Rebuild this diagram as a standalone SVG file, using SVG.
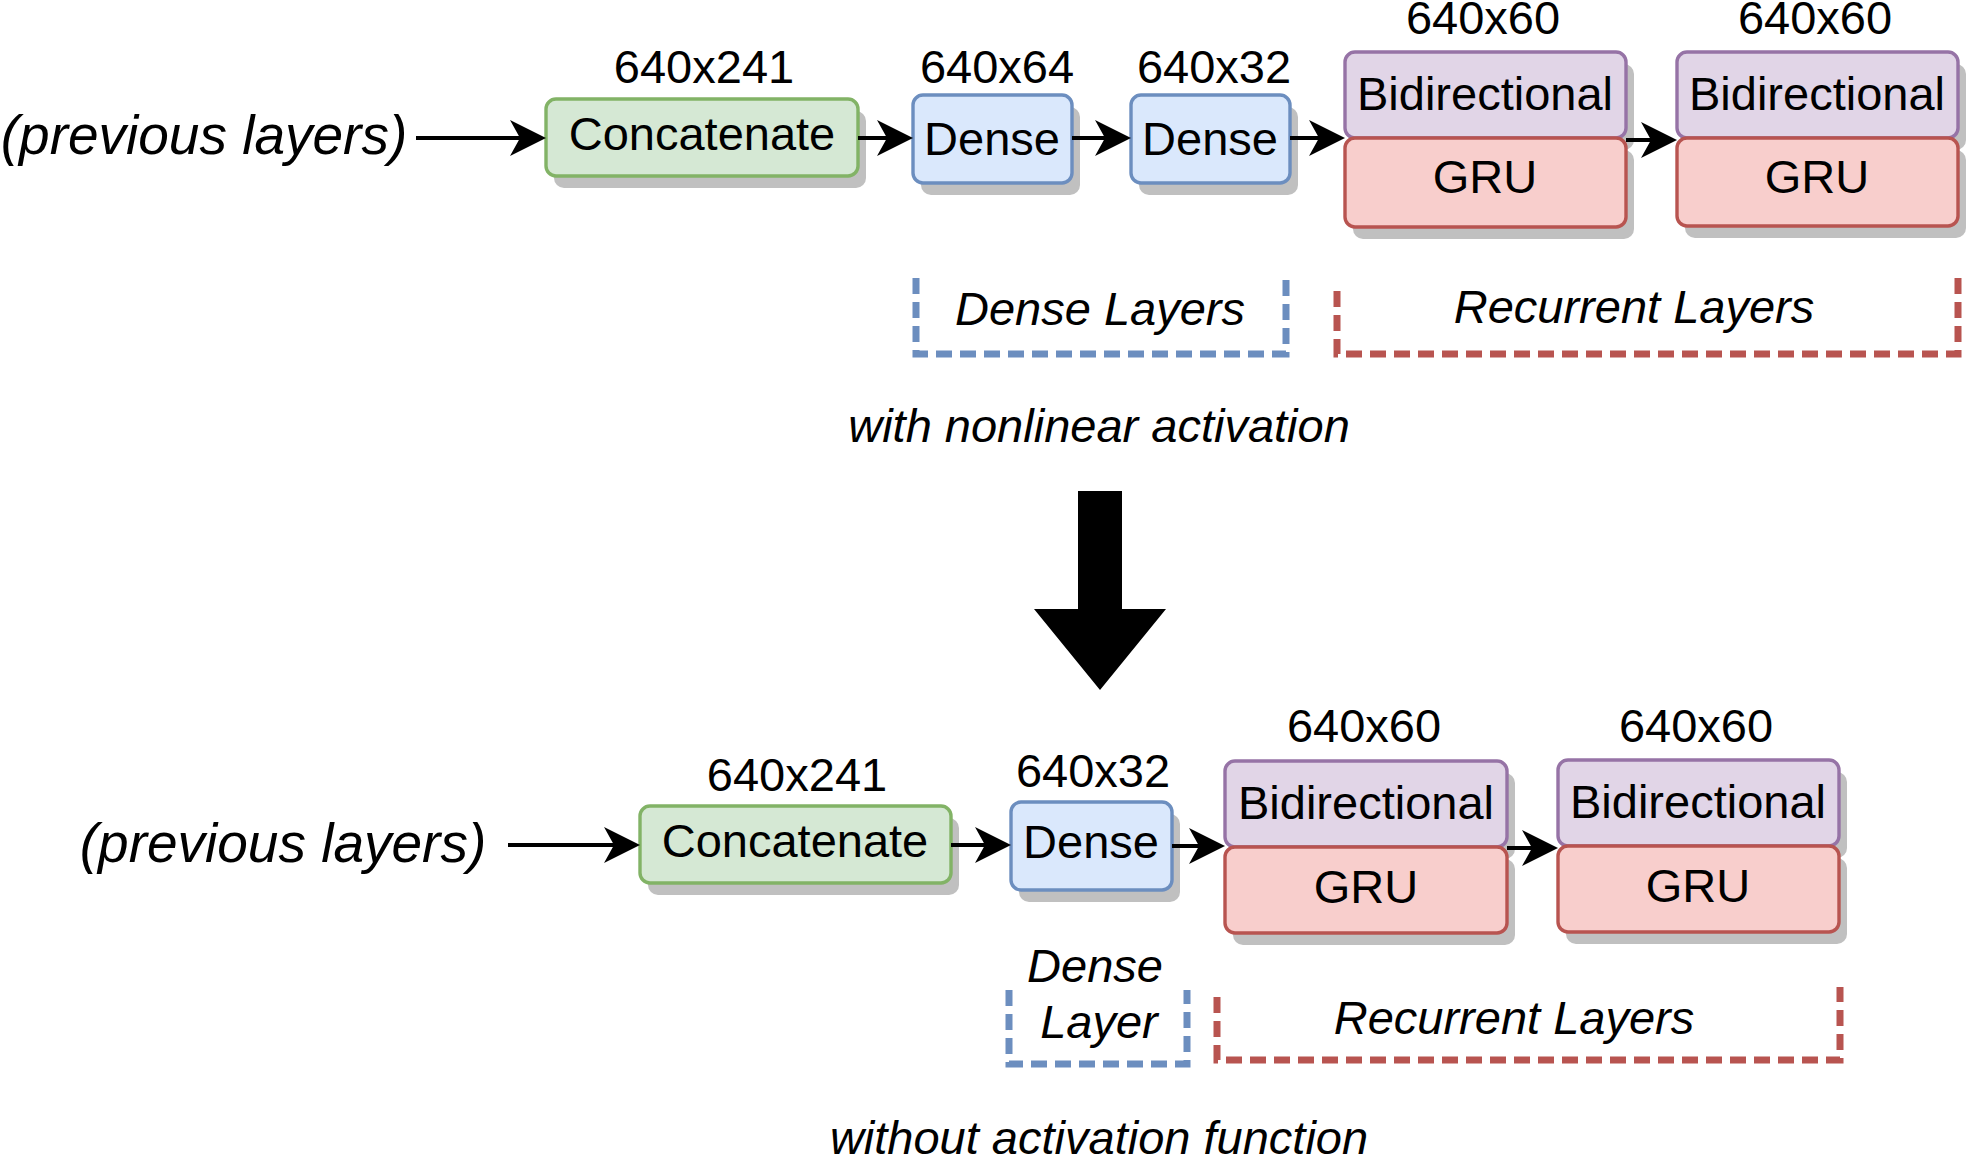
<svg xmlns="http://www.w3.org/2000/svg" width="1969" height="1156" viewBox="0 0 1969 1156">
<style>
text{font-family:"Liberation Sans",Arial,Helvetica,sans-serif;font-size:47px;fill:#000;text-anchor:middle}
.it{font-style:italic}
.big{font-size:55px}
.shadow{fill:#c0c0c0;stroke:none}
.green{fill:#d5e8d4;stroke:#82b366;stroke-width:3.4}
.blue{fill:#dae8fc;stroke:#6c8ebf;stroke-width:3.4}
.purple{fill:#e1d5e7;stroke:#9673a6;stroke-width:3.4}
.red{fill:#f8cecc;stroke:#b85450;stroke-width:3.4}
.conn{stroke:#000;stroke-width:4;fill:none;marker-end:url(#arr)}
.dblue{fill:none;stroke:#6c8ebf;stroke-width:7;stroke-dasharray:16 8}
.dred{fill:none;stroke:#b85450;stroke-width:7;stroke-dasharray:16 8}
</style>
<defs>
<marker id="arr" markerUnits="userSpaceOnUse" viewBox="0 0 36 36" refX="10" refY="18" markerWidth="36" markerHeight="36" orient="auto">
<path d="M0,0 L36,18 L0,36 L10,18 Z" fill="#000"/>
</marker>
</defs>
<rect width="1969" height="1156" fill="#fff"/>

<!-- Top row -->
<g id="top-prev"><text class="it big" x="204" y="154">(previous layers)</text></g>
<g id="top-concat">
<rect class="shadow" x="554" y="111" width="312" height="77" rx="10"/>
<rect class="green" x="546" y="99" width="312" height="77" rx="10"/>
<text x="702" y="150">Concatenate</text>
<text x="704" y="83">640x241</text>
</g>
<g id="top-dense1">
<rect class="shadow" x="921" y="107" width="159" height="88" rx="10"/>
<rect class="blue" x="913" y="95" width="159" height="88" rx="10"/>
<text x="992" y="155">Dense</text>
<text x="997" y="83">640x64</text>
</g>
<g id="top-dense2">
<rect class="shadow" x="1139" y="107" width="159" height="88" rx="10"/>
<rect class="blue" x="1131" y="95" width="159" height="88" rx="10"/>
<text x="1210" y="155">Dense</text>
<text x="1214" y="83">640x32</text>
</g>
<g id="top-rnn1">
<rect class="shadow" x="1353" y="64" width="281" height="86" rx="10"/>
<rect class="purple" x="1345" y="52" width="281" height="86" rx="10"/>
<rect class="shadow" x="1353" y="150" width="281" height="89" rx="10"/>
<rect class="red" x="1345" y="138" width="281" height="89" rx="10"/>
<text x="1485" y="110">Bidirectional</text>
<text x="1485" y="193">GRU</text>
<text x="1483" y="34">640x60</text>
</g>
<g id="top-rnn2">
<rect class="shadow" x="1685" y="64" width="281" height="86" rx="10"/>
<rect class="purple" x="1677" y="52" width="281" height="86" rx="10"/>
<rect class="shadow" x="1685" y="150" width="281" height="88" rx="10"/>
<rect class="red" x="1677" y="138" width="281" height="88" rx="10"/>
<text x="1817" y="110">Bidirectional</text>
<text x="1817" y="193">GRU</text>
<text x="1815" y="34">640x60</text>
</g>
<g id="top-dense-bracket">
<path class="dblue" d="M916,278 V354 H1286 V278"/>
<text class="it" x="1100" y="325">Dense Layers</text>
</g>
<g id="top-rec-bracket">
<path class="dred" d="M1337,291 V354 H1958 V278"/>
<text class="it" x="1634" y="323">Recurrent Layers</text>
</g>
<g id="top-caption"><text class="it" x="1099" y="442">with nonlinear activation</text></g>

<!-- Big arrow -->
<g id="big-arrow">
<path d="M1078,491 H1122 V609 H1166 L1100,690 L1034,609 H1078 Z" fill="#000"/>
</g>

<!-- Bottom row -->
<g id="bot-prev"><text class="it big" x="283" y="862">(previous layers)</text></g>
<g id="bot-concat">
<rect class="shadow" x="648" y="818" width="311" height="77" rx="10"/>
<rect class="green" x="640" y="806" width="311" height="77" rx="10"/>
<text x="795" y="857">Concatenate</text>
<text x="797" y="791">640x241</text>
</g>
<g id="bot-dense">
<rect class="shadow" x="1019" y="814" width="161" height="88" rx="10"/>
<rect class="blue" x="1011" y="802" width="161" height="88" rx="10"/>
<text x="1091" y="858">Dense</text>
<text x="1093" y="787">640x32</text>
</g>
<g id="bot-rnn1">
<rect class="shadow" x="1233" y="773" width="282" height="86" rx="10"/>
<rect class="purple" x="1225" y="761" width="282" height="86" rx="10"/>
<rect class="shadow" x="1233" y="859" width="282" height="86" rx="10"/>
<rect class="red" x="1225" y="847" width="282" height="86" rx="10"/>
<text x="1366" y="819">Bidirectional</text>
<text x="1366" y="903">GRU</text>
<text x="1364" y="742">640x60</text>
</g>
<g id="bot-rnn2">
<rect class="shadow" x="1566" y="772" width="281" height="86" rx="10"/>
<rect class="purple" x="1558" y="760" width="281" height="86" rx="10"/>
<rect class="shadow" x="1566" y="858" width="281" height="86" rx="10"/>
<rect class="red" x="1558" y="846" width="281" height="86" rx="10"/>
<text x="1698" y="818">Bidirectional</text>
<text x="1698" y="902">GRU</text>
<text x="1696" y="742">640x60</text>
</g>
<g id="bot-dense-bracket">
<path class="dblue" d="M1009,990 V1064 H1187 V990"/>
<text class="it" x="1095" y="982">Dense</text>
<text class="it" x="1099" y="1038">Layer</text>
</g>
<g id="bot-rec-bracket">
<path class="dred" d="M1217,997 V1060 H1840 V987"/>
<text class="it" x="1514" y="1034">Recurrent Layers</text>
</g>
<g id="bot-caption"><text class="it" x="1099" y="1154">without activation function</text></g>

<!-- Connectors -->
<g id="connectors">
<line class="conn" x1="416" y1="138" x2="520" y2="138"/>
<line class="conn" x1="858" y1="138" x2="887" y2="138"/>
<line class="conn" x1="1072" y1="138" x2="1105" y2="138"/>
<line class="conn" x1="1290" y1="138" x2="1319" y2="138"/>
<line class="conn" x1="1626" y1="140" x2="1651" y2="140"/>
<line class="conn" x1="508" y1="845" x2="614" y2="845"/>
<line class="conn" x1="951" y1="845" x2="985" y2="845"/>
<line class="conn" x1="1172" y1="846" x2="1199" y2="846"/>
<line class="conn" x1="1507" y1="848" x2="1532" y2="848"/>
</g>
</svg>
